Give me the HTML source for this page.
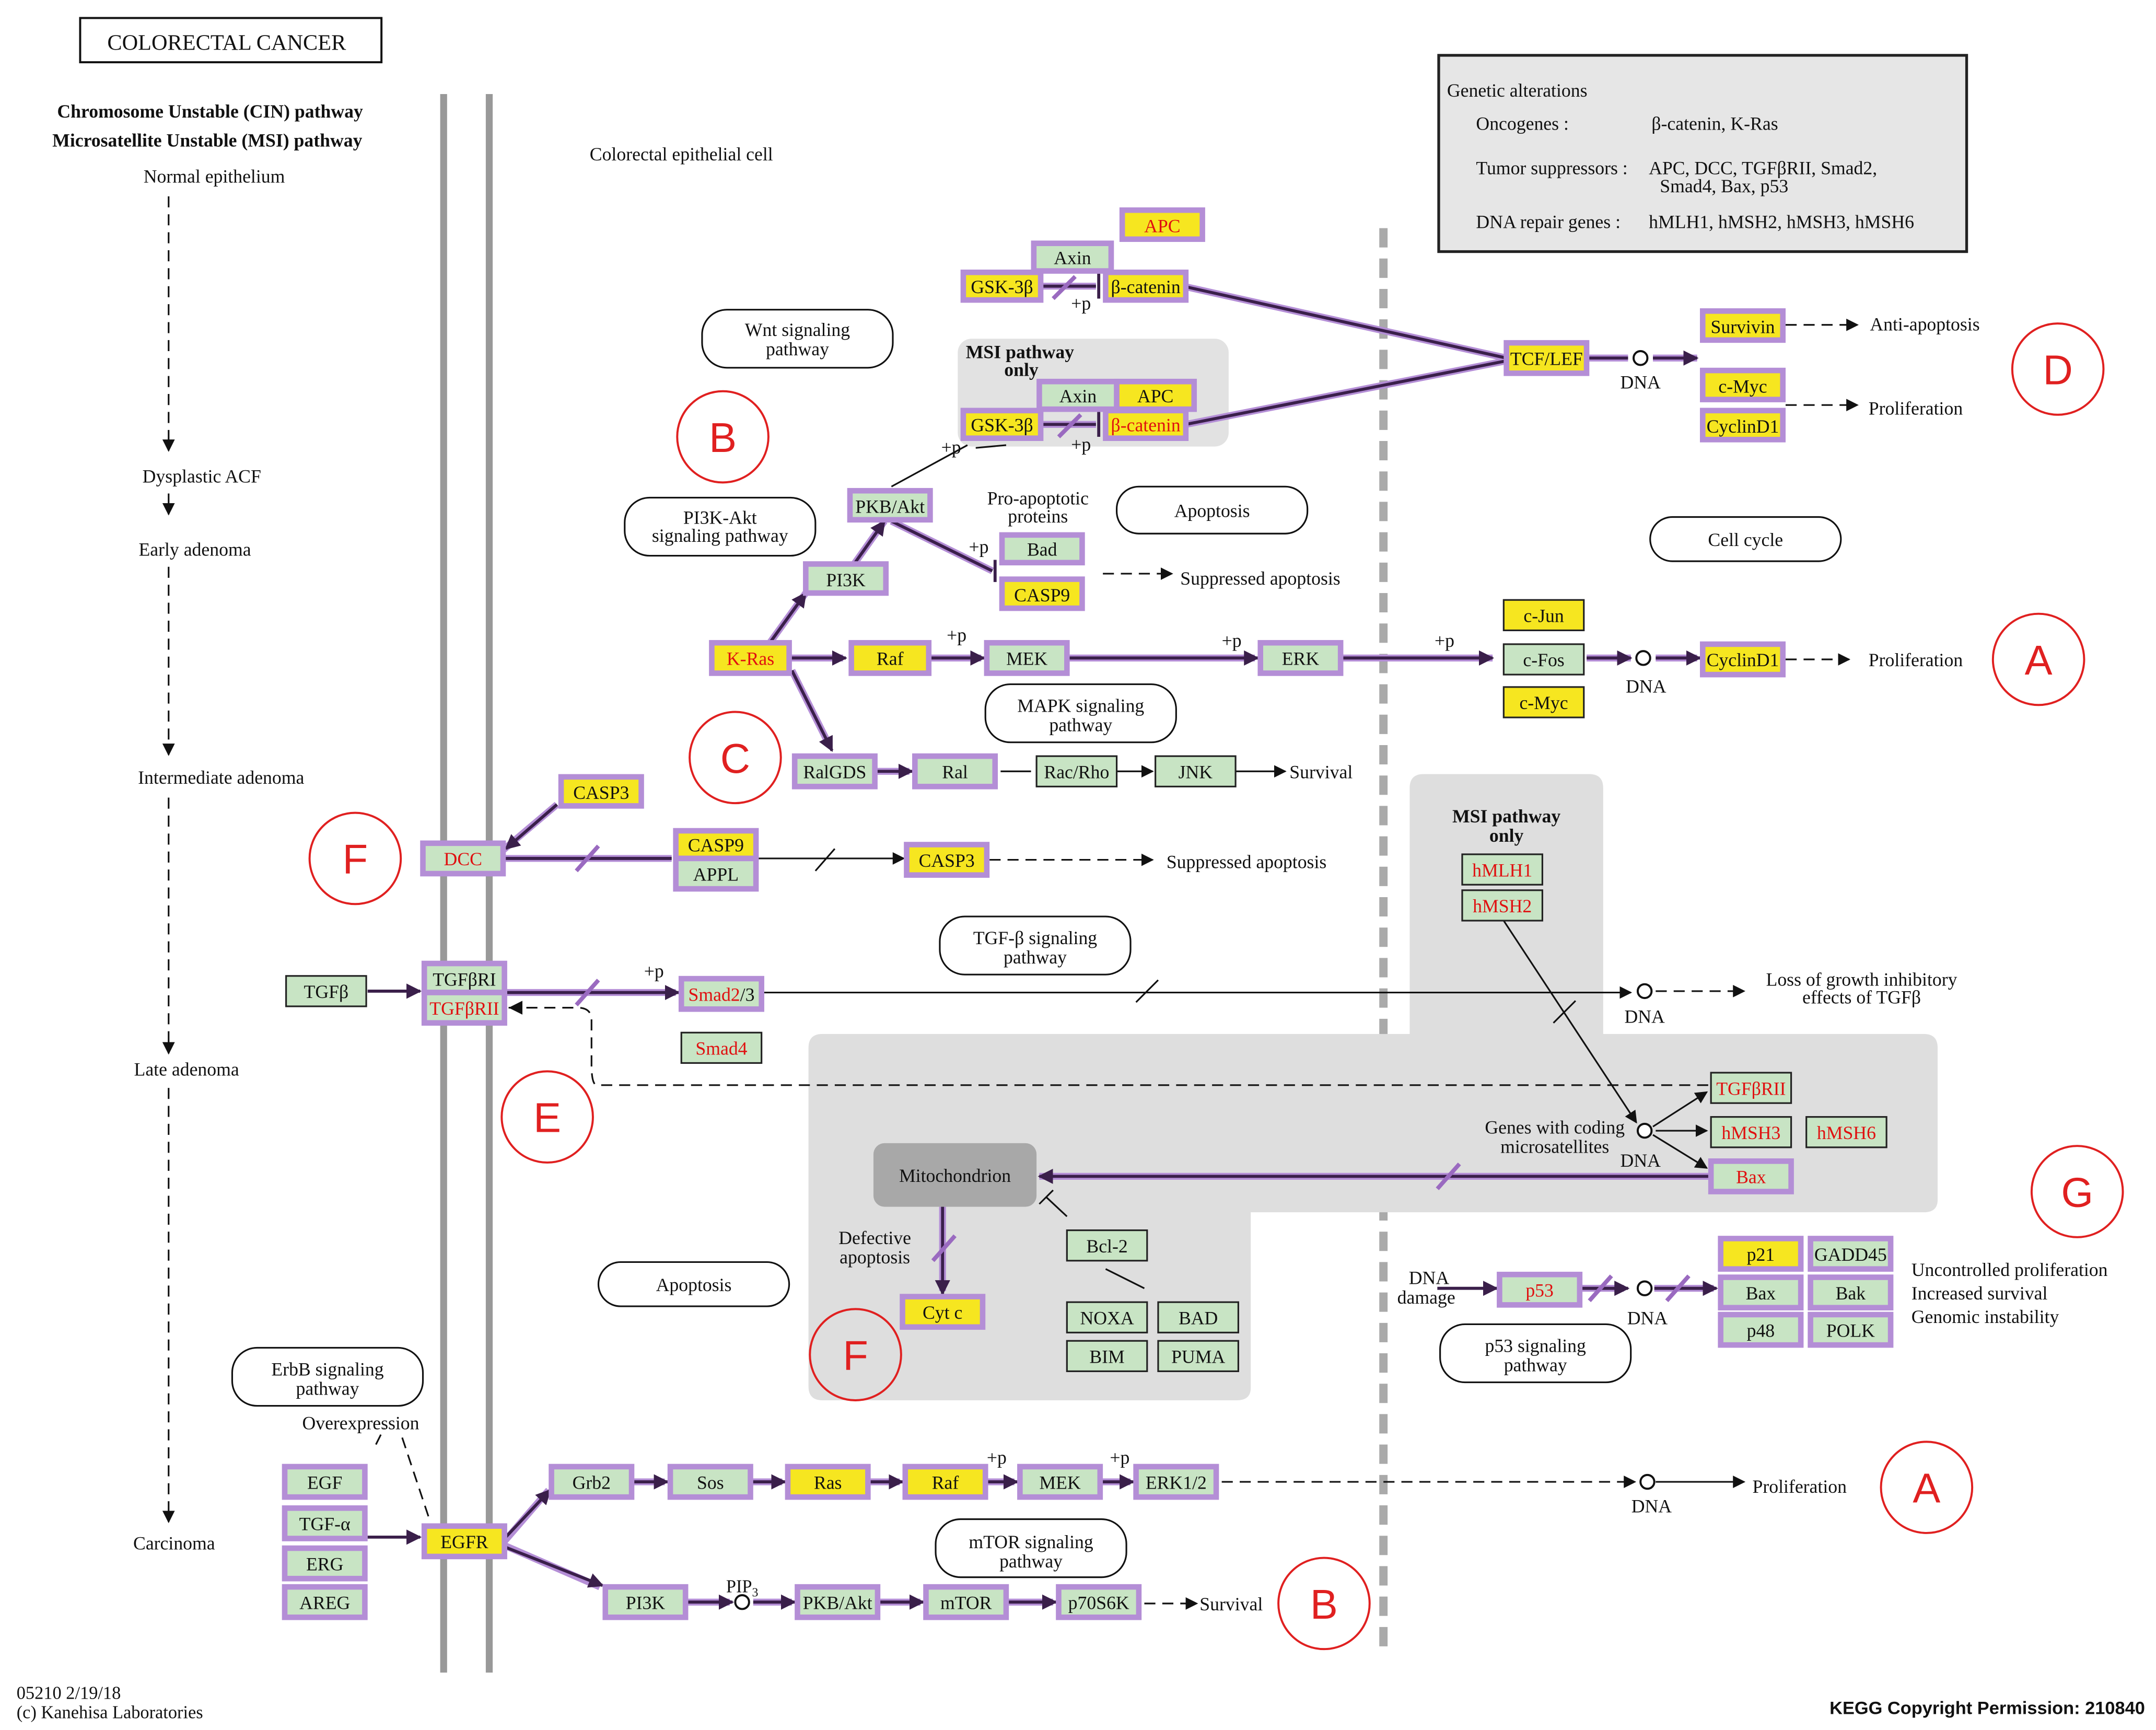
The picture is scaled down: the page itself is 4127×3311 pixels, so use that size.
<!DOCTYPE html>
<html><head><meta charset="utf-8">
<style>
html,body{margin:0;padding:0;background:#fff;}
svg{display:block;}
text{font-family:"Liberation Serif",serif;font-size:13.5px;fill:#111;}
.c{text-anchor:middle;}
.r{fill:#e01010;}
.g{fill:#c8e4c4;}
.y{fill:#f6e620;}
.h{stroke:#b48ed6;stroke-width:4;}
.n{stroke:#222;stroke-width:1.2;}
.pl{stroke:#3a1f4a;stroke-width:2.2;fill:none;}
.pw{stroke:#b48ed6;stroke-width:5;fill:none;}
.bl{stroke:#111;stroke-width:1.2;fill:none;}
.da{stroke:#111;stroke-width:1.2;fill:none;stroke-dasharray:8,5;}
.pill{fill:#fff;stroke:#111;stroke-width:1.2;}
.circ{fill:none;stroke:#e02020;stroke-width:1.5;}
.cl{font-family:"Liberation Sans",sans-serif;font-size:30px;fill:#e02020;text-anchor:middle;}
</style></head>
<body>
<svg width="4127" height="3311" viewBox="0 0 1560 1251.5" xmlns="http://www.w3.org/2000/svg">
<defs>
<marker id="a" viewBox="0 0 10 10" refX="9" refY="5" markerWidth="9" markerHeight="9" markerUnits="userSpaceOnUse" orient="auto"><path d="M0,0L10,5L0,10z" fill="#111"/></marker>
<marker id="ap" viewBox="0 0 10 10" refX="9" refY="5" markerWidth="11" markerHeight="11" markerUnits="userSpaceOnUse" orient="auto"><path d="M0,0L10,5L0,10z" fill="#3a1f4a"/></marker>
</defs>

<rect x="58" y="13" width="218" height="32" fill="#fff" stroke="#111" stroke-width="1.5"/>
<text x="164" y="36" class="c" style="font-size:16px">COLORECTAL  CANCER</text>
<text x="152" y="85" class="c" style="font-weight:bold">Chromosome Unstable (CIN) pathway</text>
<text x="150" y="106" class="c" style="font-weight:bold">Microsatellite Unstable (MSI) pathway</text>
<text x="155" y="132" class="c">Normal epithelium</text>
<line x1="122" y1="142" x2="122" y2="326" class="da" marker-end="url(#a)"/>
<text x="146" y="349" class="c">Dysplastic ACF</text>
<line x1="122" y1="357" x2="122" y2="372" class="da" marker-end="url(#a)"/>
<text x="141" y="402" class="c">Early adenoma</text>
<line x1="122" y1="410" x2="122" y2="546" class="da" marker-end="url(#a)"/>
<text x="160" y="567" class="c">Intermediate adenoma</text>
<line x1="122" y1="577" x2="122" y2="762" class="da" marker-end="url(#a)"/>
<text x="135" y="778" class="c">Late adenoma</text>
<line x1="122" y1="787" x2="122" y2="1101" class="da" marker-end="url(#a)"/>
<text x="126" y="1121" class="c">Carcinoma</text>

<line x1="321" y1="68" x2="321" y2="1210" stroke="#999" stroke-width="5"/>
<line x1="354" y1="68" x2="354" y2="1210" stroke="#999" stroke-width="5"/>
<line x1="1001" y1="165" x2="1001" y2="1192" stroke="#aaa" stroke-width="6" stroke-dasharray="14,8"/>
<text x="493" y="116" class="c">Colorectal epithelial cell</text>

<rect x="1041" y="40" width="382" height="142" fill="#e6e6e6" stroke="#222" stroke-width="2"/>
<text x="1047" y="70">Genetic alterations</text>
<text x="1068" y="94">Oncogenes :</text>
<text x="1195" y="94">β-catenin, K-Ras</text>
<text x="1068" y="126">Tumor suppressors :</text>
<text x="1193" y="126">APC, DCC, TGFβRII, Smad2,</text>
<text x="1201" y="139">Smad4, Bax, p53</text>
<text x="1068" y="165">DNA repair genes :</text>
<text x="1193" y="165">hMLH1, hMSH2, hMSH3, hMSH6</text>

<rect x="693" y="245" width="196" height="78" rx="10" fill="#e2e2e2"/>
<path d="M1030,560 H1150 Q1160,560 1160,570 V748 H1392 Q1402,748 1402,758 V868 Q1402,877 1392,877 H905 V1004 Q905,1013 895,1013 H595 Q585,1013 585,1003 V758 Q585,748 595,748 H1020 V570 Q1020,560 1030,560Z" fill="#dedede"/>
<text x="738" y="259" class="c" style="font-weight:bold">MSI pathway</text>
<text x="739" y="272" class="c" style="font-weight:bold">only</text>
<text x="1090" y="595" class="c" style="font-weight:bold">MSI pathway</text>
<text x="1090" y="609" class="c" style="font-weight:bold">only</text>

<rect x="508" y="224" width="138" height="42" rx="18" class="pill"/><text x="577" y="243" class="c">Wnt signaling</text><text x="577" y="257" class="c">pathway</text>
<rect x="452" y="360" width="138" height="42" rx="18" class="pill"/><text x="521" y="379" class="c">PI3K-Akt</text><text x="521" y="392" class="c">signaling pathway</text>
<rect x="808" y="352" width="138" height="34" rx="16" class="pill"/><text x="877" y="374" class="c">Apoptosis</text>
<rect x="1194" y="374" width="138" height="32" rx="16" class="pill"/><text x="1263" y="395" class="c">Cell cycle</text>
<rect x="713" y="495" width="138" height="42" rx="18" class="pill"/><text x="782" y="515" class="c">MAPK signaling</text><text x="782" y="529" class="c">pathway</text>
<rect x="680" y="663" width="138" height="42" rx="18" class="pill"/><text x="749" y="683" class="c">TGF-β signaling</text><text x="749" y="697" class="c">pathway</text>
<rect x="433" y="913" width="138" height="32" rx="16" class="pill"/><text x="502" y="934" class="c">Apoptosis</text>
<rect x="168" y="975" width="138" height="42" rx="18" class="pill"/><text x="237" y="995" class="c">ErbB signaling</text><text x="237" y="1009" class="c">pathway</text>
<rect x="677" y="1099" width="138" height="42" rx="18" class="pill"/><text x="746" y="1120" class="c">mTOR signaling</text><text x="746" y="1134" class="c">pathway</text>
<rect x="1042" y="958" width="138" height="42" rx="18" class="pill"/><text x="1111" y="978" class="c">p53 signaling</text><text x="1111" y="992" class="c">pathway</text>

<g>
<path class="pw" d="M856,207 L1090,259 M858,307 L1090,261 M1148,259 L1178,259 M1196,259 L1228,259
M571,476 L610,476 M672,476 L710,476 M772,476 L908,476 M970,476 L1080,476
M557,465 L583,429 M618,408 L640,377 M645,377 L718,413
M573,485 L600,539 M633,558 L658,558
M1148,476 L1180,476 M1198,476 L1228,476
M364,615 L403,582 M364,621 L486,621
M364,718 L489,718
M1240,851 L752,851 M682,873 L682,934
M365,1115 L397,1078 M365,1118 L434,1148 M457,1072 L481,1072 M543,1072 L566,1072 M628,1072 L651,1072 M713,1072 L734,1072 M796,1072 L818,1072
M496,1159 L528,1159 M545,1159 L573,1159 M635,1159 L666,1159 M728,1159 L762,1159
M1143,932 L1175,932 M1197,932 L1240,932
M753,207 L793,207 M753,307 L793,307"/>
<path class="pl" d="M856,207 L1090,259 M858,307 L1090,261 M1148,259 L1178,259"/>
<path class="pl" marker-end="url(#ap)" d="M1196,259 L1228,259"/>
<path class="pl" marker-end="url(#ap)" d="M571,476 L612,476"/>
<path class="pl" marker-end="url(#ap)" d="M672,476 L712,476"/>
<path class="pl" marker-end="url(#ap)" d="M772,476 L910,476"/>
<path class="pl" marker-end="url(#ap)" d="M970,476 L1080,476"/>
<path class="pl" marker-end="url(#ap)" d="M557,465 L583,429"/>
<path class="pl" marker-end="url(#ap)" d="M618,408 L640,377"/>
<path class="pl" d="M645,377 L718,413 M720,405 L720,421"/>
<path class="pl" marker-end="url(#ap)" d="M573,485 L602,543"/>
<path class="pl" marker-end="url(#ap)" d="M633,558 L660,558"/>
<path class="pl" marker-end="url(#ap)" d="M1148,476 L1180,476"/>
<path class="pl" marker-end="url(#ap)" d="M1198,476 L1230,476"/>
<path class="pl" marker-end="url(#ap)" d="M403,582 L366,614"/>
<path class="pl" d="M364,621 L486,621"/>
<path class="pl" marker-end="url(#ap)" d="M364,718 L491,718"/>
<path class="pl" marker-end="url(#ap)" d="M1238,851 L752,851"/>
<path class="pl" marker-end="url(#ap)" d="M682,868 L682,936"/>
<path class="pl" marker-end="url(#ap)" d="M365,1113 L398,1078"/>
<path class="pl" marker-end="url(#ap)" d="M365,1119 L436,1147"/>
<path class="pl" marker-end="url(#ap)" d="M457,1072 L483,1072"/>
<path class="pl" marker-end="url(#ap)" d="M543,1072 L568,1072"/>
<path class="pl" marker-end="url(#ap)" d="M628,1072 L653,1072"/>
<path class="pl" marker-end="url(#ap)" d="M713,1072 L736,1072"/>
<path class="pl" marker-end="url(#ap)" d="M796,1072 L820,1072"/>
<path class="pl" marker-end="url(#ap)" d="M496,1159 L530,1159"/>
<path class="pl" marker-end="url(#ap)" d="M545,1159 L575,1159"/>
<path class="pl" marker-end="url(#ap)" d="M635,1159 L668,1159"/>
<path class="pl" marker-end="url(#ap)" d="M728,1159 L764,1159"/>
<path class="pl" marker-end="url(#ap)" d="M1040,932 L1083,932"/>
<path class="pl" marker-end="url(#ap)" d="M1143,932 L1178,932"/>
<path class="pl" marker-end="url(#ap)" d="M1197,932 L1242,932"/>
<path class="pl" marker-end="url(#ap)" d="M266,717 L304,717"/>
<path class="pl" marker-end="url(#ap)" d="M266,1112 L304,1112"/>
<path class="pl" d="M753,207 L793,207 M795,198 L795,216 M753,307 L793,307 M795,298 L795,316"/>
</g>
<g stroke="#9a6ac0" stroke-width="3">
<line x1="762" y1="216" x2="778" y2="200"/><line x1="766" y1="316" x2="782" y2="300"/>
<line x1="417" y1="630" x2="433" y2="612"/><line x1="417" y1="727" x2="433" y2="709"/>
<line x1="1040" y1="860" x2="1056" y2="842"/><line x1="675" y1="912" x2="691" y2="894"/>
<line x1="1150" y1="941" x2="1166" y2="923"/><line x1="1206" y1="941" x2="1222" y2="923"/>
</g>

<path class="bl" d="M700,322 L645,352 M706,324 L728,322 M772,880 L757,866 M752,871 L762,861 M800,918 L828,932"/>
<path class="bl" marker-end="url(#a)" d="M548,621 L654,621"/>
<path class="bl" marker-end="url(#a)" d="M551,718 L1180,718"/>
<path class="bl" marker-end="url(#a)" d="M1088,666 L1184,812"/>
<path class="bl" marker-end="url(#a)" d="M1196,815 L1235,790"/>
<path class="bl" marker-end="url(#a)" d="M1198,818 L1235,818"/>
<path class="bl" marker-end="url(#a)" d="M1196,821 L1235,845"/>
<path class="bl" marker-end="url(#a)" d="M808,558 L834,558"/>
<path class="bl" marker-end="url(#a)" d="M894,558 L930,558"/>
<path class="bl" d="M724,558 L746,558 M750,549 L750,566"/>
<path class="bl" d="M590,630 L604,614 M822,725 L838,709 M1124,740 L1140,724"/>
<path class="bl" marker-end="url(#a)" d="M1198,1072 L1262,1072"/>
<path class="da" marker-end="url(#a)" d="M1292,235 L1344,235"/>
<path class="da" marker-end="url(#a)" d="M1292,293 L1344,293"/>
<path class="da" marker-end="url(#a)" d="M1292,477 L1338,477"/>
<path class="da" marker-end="url(#a)" d="M798,415 L848,415"/>
<path class="da" marker-end="url(#a)" d="M716,622 L834,622"/>
<path class="da" marker-end="url(#a)" d="M1198,717 L1262,717"/>
<path class="da" marker-end="url(#a)" d="M884,1072 L1183,1072"/>
<path class="da" marker-end="url(#a)" d="M828,1160 L866,1160"/>
<path class="da" d="M1236,785 L432,785 Q428,785 428,770 L428,738 Q428,729 418,729 L368,729" stroke="#d06060"/>
<path d="M368,729 L378,724 L378,734z" fill="#111"/>
<path class="da" d="M272,1045 L278,1033 M291,1040 L310,1097"/>

<g fill="#fff" stroke="#111" stroke-width="1.5">
<circle cx="1187" cy="259" r="5"/><circle cx="1189" cy="476" r="5"/><circle cx="1190" cy="717" r="5"/>
<circle cx="1190" cy="818" r="5"/><circle cx="1190" cy="932" r="5"/><circle cx="1192" cy="1072" r="5"/><circle cx="537" cy="1159" r="5"/>
</g>
<text x="1187" y="281" class="c">DNA</text><text x="1191" y="501" class="c">DNA</text><text x="1190" y="740" class="c">DNA</text>
<text x="1187" y="844" class="c">DNA</text><text x="1192" y="958" class="c">DNA</text><text x="1195" y="1094" class="c">DNA</text>

<g class="h">
<rect x="812" y="152" width="58" height="21" class="y"/>
<rect x="748" y="176" width="56" height="20" class="g"/>
<rect x="697" y="197" width="56" height="20" class="y"/>
<rect x="800" y="197" width="58" height="20" class="y"/>
<rect x="1090" y="248" width="58" height="22" class="y"/>
<rect x="1232" y="225" width="58" height="21" class="y"/>
<rect x="1232" y="268" width="58" height="21" class="y"/>
<rect x="1232" y="297" width="58" height="21" class="y"/>
<rect x="752" y="276" width="56" height="20" class="g"/>
<rect x="808" y="276" width="56" height="20" class="y"/>
<rect x="697" y="297" width="56" height="20" class="y"/>
<rect x="800" y="297" width="58" height="20" class="y"/>
<rect x="615" y="355" width="58" height="21" class="g"/>
<rect x="725" y="387" width="58" height="20" class="g"/>
<rect x="725" y="419" width="58" height="21" class="y"/>
<rect x="583" y="408" width="58" height="21" class="g"/>
<rect x="515" y="465" width="56" height="22" class="y"/>
<rect x="616" y="465" width="56" height="22" class="y"/>
<rect x="714" y="465" width="58" height="22" class="g"/>
<rect x="912" y="465" width="58" height="22" class="g"/>
<rect x="1232" y="466" width="58" height="22" class="y"/>
<rect x="575" y="547" width="58" height="22" class="g"/>
<rect x="662" y="547" width="58" height="22" class="g"/>
<rect x="406" y="562" width="58" height="21" class="y"/>
<rect x="306" y="610" width="58" height="22" class="g"/>
<rect x="489" y="601" width="58" height="20" class="y"/>
<rect x="489" y="621" width="58" height="22" class="g"/>
<rect x="656" y="611" width="58" height="22" class="y"/>
<rect x="307" y="697" width="58" height="21" class="g"/>
<rect x="307" y="718" width="58" height="22" class="g"/>
<rect x="493" y="708" width="58" height="22" class="g"/>
<rect x="1238" y="840" width="58" height="22" class="g"/>
<rect x="653" y="938" width="58" height="22" class="y"/>
<rect x="1085" y="922" width="58" height="22" class="g"/>
<rect x="1245" y="896" width="58" height="22" class="y"/>
<rect x="1310" y="896" width="58" height="22" class="g"/>
<rect x="1245" y="924" width="58" height="22" class="g"/>
<rect x="1310" y="924" width="58" height="22" class="g"/>
<rect x="1245" y="951" width="58" height="22" class="g"/>
<rect x="1310" y="951" width="58" height="22" class="g"/>
<rect x="206" y="1061" width="58" height="22" class="g"/>
<rect x="206" y="1091" width="58" height="22" class="g"/>
<rect x="206" y="1120" width="58" height="22" class="g"/>
<rect x="206" y="1148" width="58" height="22" class="g"/>
<rect x="307" y="1104" width="58" height="22" class="y"/>
<rect x="399" y="1061" width="58" height="22" class="g"/>
<rect x="485" y="1061" width="58" height="22" class="g"/>
<rect x="570" y="1061" width="58" height="22" class="y"/>
<rect x="655" y="1061" width="58" height="22" class="y"/>
<rect x="738" y="1061" width="58" height="22" class="g"/>
<rect x="822" y="1061" width="58" height="22" class="g"/>
<rect x="438" y="1148" width="58" height="22" class="g"/>
<rect x="577" y="1148" width="58" height="22" class="g"/>
<rect x="670" y="1148" width="58" height="22" class="g"/>
<rect x="766" y="1148" width="58" height="22" class="g"/>
</g>
<g class="n">
<rect x="750" y="547" width="58" height="22" class="g"/>
<rect x="836" y="547" width="58" height="22" class="g"/>
<rect x="1088" y="434" width="58" height="22" class="y"/>
<rect x="1088" y="466" width="58" height="22" class="g"/>
<rect x="1088" y="497" width="58" height="22" class="y"/>
<rect x="1058" y="618" width="58" height="22" class="g"/>
<rect x="1058" y="644" width="58" height="22" class="g"/>
<rect x="207" y="706" width="58" height="22" class="g"/>
<rect x="493" y="747" width="58" height="22" class="g"/>
<rect x="1238" y="776" width="58" height="22" class="g"/>
<rect x="1238" y="808" width="58" height="22" class="g"/>
<rect x="1307" y="808" width="58" height="22" class="g"/>
<rect x="772" y="890" width="58" height="22" class="g"/>
<rect x="772" y="942" width="58" height="22" class="g"/>
<rect x="838" y="942" width="58" height="22" class="g"/>
<rect x="772" y="970" width="58" height="22" class="g"/>
<rect x="838" y="970" width="58" height="22" class="g"/>
</g>
<rect x="632" y="827" width="118" height="46" rx="8" fill="#a8a8a8"/>
<text x="691" y="855" class="c">Mitochondrion</text>

<g class="c">
<text x="841" y="168" class="c r">APC</text>
<text x="776" y="191" class="c">Axin</text>
<text x="725" y="212" class="c">GSK-3β</text>
<text x="829" y="212" class="c">β-catenin</text>
<text x="1119" y="264" class="c">TCF/LEF</text>
<text x="1261" y="241" class="c">Survivin</text>
<text x="1261" y="284" class="c">c-Myc</text>
<text x="1261" y="313" class="c">CyclinD1</text>
<text x="780" y="291" class="c">Axin</text>
<text x="836" y="291" class="c">APC</text>
<text x="725" y="312" class="c">GSK-3β</text>
<text x="829" y="312" class="c r">β-catenin</text>
<text x="644" y="371" class="c">PKB/Akt</text>
<text x="754" y="402" class="c">Bad</text>
<text x="754" y="435" class="c">CASP9</text>
<text x="612" y="424" class="c">PI3K</text>
<text x="543" y="481" class="c r">K-Ras</text>
<text x="644" y="481" class="c">Raf</text>
<text x="743" y="481" class="c">MEK</text>
<text x="941" y="481" class="c">ERK</text>
<text x="1117" y="450" class="c">c-Jun</text>
<text x="1117" y="482" class="c">c-Fos</text>
<text x="1117" y="513" class="c">c-Myc</text>
<text x="1261" y="482" class="c">CyclinD1</text>
<text x="604" y="563" class="c">RalGDS</text>
<text x="691" y="563" class="c">Ral</text>
<text x="779" y="563" class="c">Rac/Rho</text>
<text x="865" y="563" class="c">JNK</text>
<text x="435" y="578" class="c">CASP3</text>
<text x="335" y="626" class="c r">DCC</text>
<text x="518" y="616" class="c">CASP9</text>
<text x="518" y="637" class="c">APPL</text>
<text x="685" y="627" class="c">CASP3</text>
<text x="1087" y="634" class="c r">hMLH1</text>
<text x="1087" y="660" class="c r">hMSH2</text>
<text x="236" y="722" class="c">TGFβ</text>
<text x="336" y="713" class="c">TGFβRI</text>
<text x="336" y="734" class="c r">TGFβRII</text>
<text x="522" y="724" class="c"><tspan class="r">Smad2</tspan>/3</text>
<text x="522" y="763" class="c r">Smad4</text>
<text x="1267" y="792" class="c r">TGFβRII</text>
<text x="1267" y="824" class="c r">hMSH3</text>
<text x="1336" y="824" class="c r">hMSH6</text>
<text x="1267" y="856" class="c r">Bax</text>
<text x="682" y="954" class="c">Cyt c</text>
<text x="801" y="906" class="c">Bcl-2</text>
<text x="801" y="958" class="c">NOXA</text>
<text x="867" y="958" class="c">BAD</text>
<text x="801" y="986" class="c">BIM</text>
<text x="867" y="986" class="c">PUMA</text>
<text x="1114" y="938" class="c r">p53</text>
<text x="1274" y="912" class="c">p21</text>
<text x="1339" y="912" class="c">GADD45</text>
<text x="1274" y="940" class="c">Bax</text>
<text x="1339" y="940" class="c">Bak</text>
<text x="1274" y="967" class="c">p48</text>
<text x="1339" y="967" class="c">POLK</text>
<text x="235" y="1077" class="c">EGF</text>
<text x="235" y="1107" class="c">TGF-α</text>
<text x="235" y="1136" class="c">ERG</text>
<text x="235" y="1164" class="c">AREG</text>
<text x="336" y="1120" class="c">EGFR</text>
<text x="428" y="1077" class="c">Grb2</text>
<text x="514" y="1077" class="c">Sos</text>
<text x="599" y="1077" class="c">Ras</text>
<text x="684" y="1077" class="c">Raf</text>
<text x="767" y="1077" class="c">MEK</text>
<text x="851" y="1077" class="c">ERK1/2</text>
<text x="467" y="1164" class="c">PI3K</text>
<text x="606" y="1164" class="c">PKB/Akt</text>
<text x="699" y="1164" class="c">mTOR</text>
<text x="795" y="1164" class="c">p70S6K</text>
</g>

<text x="1353" y="239">Anti-apoptosis</text>
<text x="1352" y="300">Proliferation</text>
<text x="1352" y="482">Proliferation</text>
<text x="1268" y="1080">Proliferation</text>
<text x="854" y="423">Suppressed apoptosis</text>
<text x="844" y="628">Suppressed apoptosis</text>
<text x="933" y="563">Survival</text>
<text x="868" y="1165">Survival</text>
<text x="751" y="365" class="c">Pro-apoptotic</text>
<text x="751" y="378" class="c">proteins</text>
<text x="1347" y="713" class="c">Loss of growth inhibitory</text>
<text x="1347" y="726" class="c">effects of TGFβ</text>
<text x="1125" y="820" class="c">Genes with coding</text>
<text x="1125" y="834" class="c">microsatellites</text>
<text x="1034" y="929" class="c">DNA</text>
<text x="1032" y="943" class="c">damage</text>
<text x="1383" y="923">Uncontrolled proliferation</text>
<text x="1383" y="940">Increased survival</text>
<text x="1383" y="957">Genomic instability</text>
<text x="633" y="900" class="c">Defective</text>
<text x="633" y="914" class="c">apoptosis</text>
<text x="261" y="1034" class="c">Overexpression</text>
<text x="537" y="1152" class="c" style="font-size:13px">PIP<tspan style="font-size:9px" dy="3">3</tspan></text>
<g style="font-size:13px">
<text x="775" y="224">+p</text><text x="775" y="326">+p</text><text x="681" y="328">+p</text>
<text x="701" y="400">+p</text><text x="685" y="464">+p</text><text x="884" y="468">+p</text><text x="1038" y="468">+p</text>
<text x="466" y="707">+p</text><text x="714" y="1059">+p</text><text x="803" y="1059">+p</text>
</g>

<g class="circ">
<circle cx="523" cy="316" r="33"/><circle cx="1489" cy="267" r="33"/><circle cx="1475" cy="477" r="33"/>
<circle cx="532" cy="548" r="33"/><circle cx="257" cy="621" r="33"/><circle cx="396" cy="808" r="33"/>
<circle cx="1503" cy="862" r="33"/><circle cx="619" cy="980" r="33"/><circle cx="1394" cy="1076" r="33"/><circle cx="958" cy="1160" r="33"/>
</g>
<text x="523" y="327" class="cl">B</text><text x="1489" y="278" class="cl">D</text><text x="1475" y="488" class="cl">A</text>
<text x="532" y="559" class="cl">C</text><text x="257" y="632" class="cl">F</text><text x="396" y="819" class="cl">E</text>
<text x="1503" y="873" class="cl">G</text><text x="619" y="991" class="cl">F</text><text x="1394" y="1087" class="cl">A</text><text x="958" y="1171" class="cl">B</text>

<text x="12" y="1229" style="font-size:13px">05210 2/19/18</text>
<text x="12" y="1243" style="font-size:13px">(c) Kanehisa Laboratories</text>
<text x="1552" y="1240" style="font-family:'Liberation Sans',sans-serif;font-weight:bold;font-size:13px;text-anchor:end">KEGG Copyright Permission: 210840</text>
</svg>
</body></html>
